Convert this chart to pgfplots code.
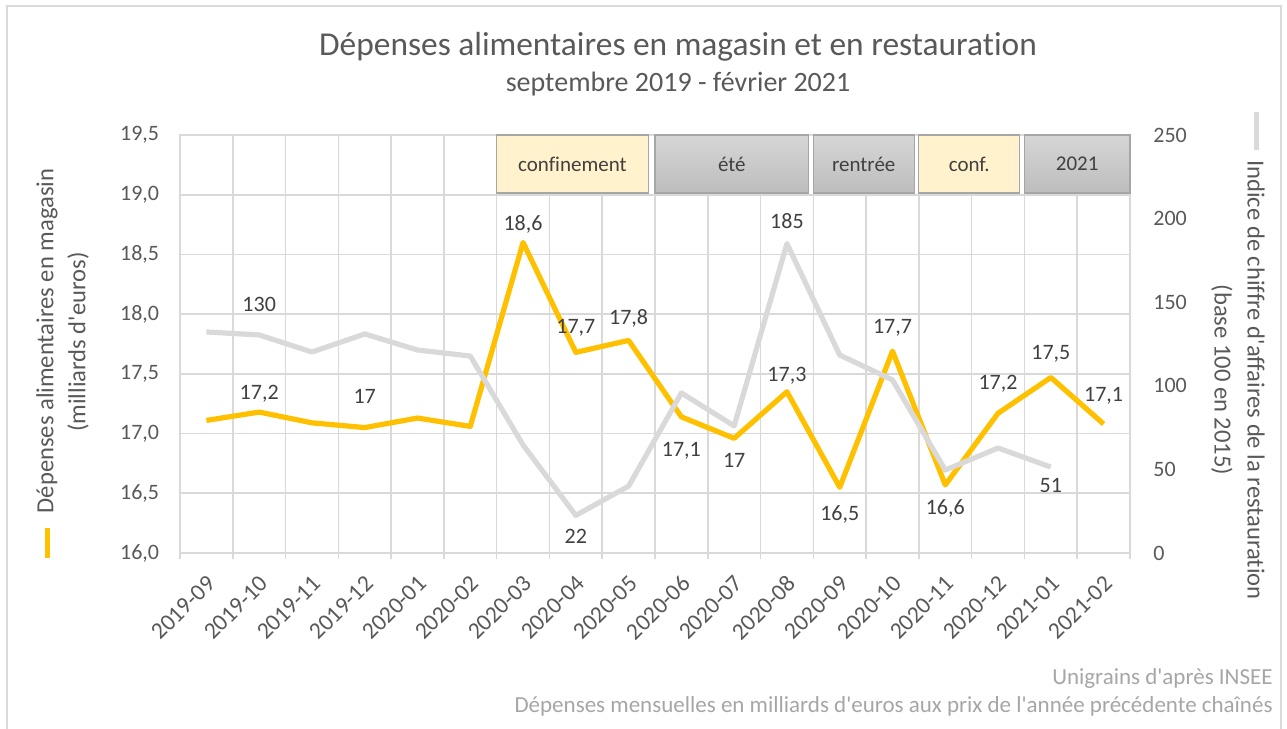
\documentclass[border=0pt]{standalone}
\usepackage{fontspec}
\setmainfont{Carlito}[Ligatures={NoCommon}]
\usepackage{pgfplots}
\usepackage{pgfplotstable}
\pgfplotsset{compat=1.18}
\definecolor{yel}{HTML}{FFC000}
\definecolor{gry}{HTML}{D9D9D9}
\definecolor{grid}{HTML}{D9D9D9}
\definecolor{txt}{HTML}{595959}
\definecolor{dlab}{HTML}{404040}
\definecolor{foot}{HTML}{A6A6A6}
\definecolor{boxy}{HTML}{FFF2CC}
\definecolor{boxb}{HTML}{A6A6A6}
\definecolor{boxt}{HTML}{D6D6D6}
\definecolor{boxbt}{HTML}{BDBDBD}

\pgfplotstableread{
x y
0 17.11
1 17.18
2 17.09
3 17.05
4 17.13
5 17.06
6 18.60
7 17.68
8 17.78
9 17.14
10 16.96
11 17.35
12 16.55
13 17.69
14 16.57
15 17.17
16 17.47
17 17.08
}\magasin

\pgfplotstableread{
x y
0 132.2
1 130.4
2 120.2
3 131.0
4 121.4
5 117.8
6 64.6
7 22.5
8 40.0
9 95.7
10 76.0
11 185.0
12 118.4
13 103.5
14 49.6
15 62.8
16 51.4
}\resto

\pgfplotstableread{
x y lab dy
1 17.18 17,2 10
3 17.05 17 15.5
6 18.60 18,6 9.5
7 17.68 17,7 13
8 17.78 17,8 11.5
9 17.14 17,1 -16.5
10 16.96 17 -11
11 17.35 17,3 8.5
12 16.55 16,5 -13
13 17.69 17,7 12.5
14 16.57 16,6 -11.5
15 17.17 17,2 15.5
16 17.47 17,5 12.5
17 17.08 17,1 15
}\maglab

\pgfplotstableread{
x y lab dy
1 130.4 130 15
7 22.5 22 -10.5
11 185.0 185 11
16 51.4 51 -9
}\reslab

\newcommand{\fs}[1]{\fontsize{#1}{1.2\dimexpr#1\relax}\selectfont}
\newcommand{\q}{\textquotesingle}

\begin{document}
\begin{tikzpicture}
\path[use as bounding box] (0,0) rectangle (643.5bp,364.5bp);
% chart border
\draw[color=grid, line width=0.8bp] (3.5bp,-2bp) -- (3.5bp,361.5bp) -- (640.5bp,361.5bp) -- (640.5bp,-2bp);

% titles
\node[anchor=base, text=txt, inner sep=0pt] at (339bp,336.5bp) {\fs{16.7bp}Dépenses alimentaires en magasin et en restauration};
\node[anchor=base, text=txt, inner sep=0pt] at (339bp,318.5bp) {\fs{14bp}septembre 2019 - février 2021};

% left axis title with legend key
\draw[yel, line width=2.5bp] (23.5bp,85.5bp) -- (23.5bp,100.5bp);
\node[rotate=90, text=txt, inner sep=0pt] at (23.5bp,194bp) {\fs{12.3bp}Dépenses alimentaires en magasin};
\node[rotate=90, text=txt, inner sep=0pt] at (39bp,193.5bp) {\fs{12.3bp}(milliards d\q euros)};

% right axis title with legend key
\draw[gry, line width=2.5bp] (628bp,289.5bp) -- (628bp,308.5bp);
\node[rotate=-90, text=txt, inner sep=0pt] at (628bp,174.5bp) {\fs{12.3bp}Indice de chiffre d\q affaires de la restauration};
\node[rotate=-90, text=txt, inner sep=0pt] at (611bp,174.5bp) {\fs{12.3bp}(base 100 en 2015)};

% footer
\node[anchor=base east, text=foot, inner sep=0pt] at (636.5bp,22.5bp) {\fs{11.5bp}Unigrains d\q après INSEE};
\node[anchor=base east, text=foot, inner sep=0pt] at (636.5bp,8.5bp) {\fs{11.5bp}Dépenses mensuelles en milliards d\q euros aux prix de l\q année précédente chaînés};

\begin{axis}[
  at={(90bp,88bp)}, anchor=south west,
  scale only axis, width=475bp, height=209bp,
  xmin=-0.5, xmax=17.5, ymin=16, ymax=19.5,
  clip=false,
  axis line style={grid, line width=0.8bp},
  xtick={0,...,17},
  xticklabels={2019-09,2019-10,2019-11,2019-12,2020-01,2020-02,2020-03,2020-04,2020-05,2020-06,2020-07,2020-08,2020-09,2020-10,2020-11,2020-12,2021-01,2021-02},
  major x tick style={draw=none},
  minor xtick={-0.5,0.5,...,17.5},
  xminorgrids,
  minor x grid style={grid, line width=0.8bp},
  minor x tick style={grid, line width=0.8bp},
  minor tick length=3bp,
  tick align=outside,
  xtick pos=bottom,
  ytick={16,16.5,...,19.5},
  ymajorgrids,
  major y grid style={grid, line width=0.8bp},
  y tick style={draw=none},
  ytick pos=left,
  tick label style={font=\fs{11bp}, text=txt},
  /pgf/number format/assume math mode=true,
  yticklabel style={/pgf/number format/.cd, fixed, fixed zerofill, precision=1, use comma, /tikz/.cd, anchor=east, inner sep=0pt, xshift=-6bp},
  xticklabel style={xshift=2.5bp, rotate=45, anchor=east, inner sep=0pt, font=\fs{11.8bp}},
  xticklabel shift=9bp,
]
% period boxes
\draw[boxb, fill=boxy, line width=0.6bp] (axis cs:5.5,19.014) rectangle (axis cs:8.37,19.5);
\draw[boxb, top color=boxt, bottom color=boxbt, line width=0.6bp] (axis cs:8.5,19.014) rectangle (axis cs:11.41,19.5);
\draw[boxb, top color=boxt, bottom color=boxbt, line width=0.6bp] (axis cs:11.5,19.014) rectangle (axis cs:13.41,19.5);
\draw[boxb, fill=boxy, line width=0.6bp] (axis cs:13.5,19.014) rectangle (axis cs:15.41,19.5);
\draw[boxb, top color=boxt, bottom color=boxbt, line width=0.6bp] (axis cs:15.5,19.014) rectangle (axis cs:17.5,19.5);
\node[text=dlab, inner sep=0pt] at (axis cs:6.935,19.257) {\fs{10.5bp}confinement};
\node[text=dlab, inner sep=0pt] at (axis cs:9.955,19.257) {\fs{10.5bp}été};
\node[text=dlab, inner sep=0pt] at (axis cs:12.455,19.257) {\fs{10.5bp}rentrée};
\node[text=dlab, inner sep=0pt] at (axis cs:14.455,19.257) {\fs{10.5bp}conf.};
\node[text=dlab, inner sep=0pt] at (axis cs:16.5,19.257) {\fs{10.5bp}2021};

\addplot[yel, line width=2.6bp, line join=round, mark=none] table[x=x,y=y] {\magasin};
\addplot[draw=none, mark=none,
  nodes near coords, point meta=explicit symbolic,
  visualization depends on={\thisrow{dy} \as \dy},
  every node near coord/.append style={anchor=center, inner sep=0pt, text=dlab, font=\fs{11bp}, text height=7bp, text depth=0pt, yshift=\dy bp},
] table[x=x,y=y,meta=lab] {\maglab};
\end{axis}

\begin{axis}[
  at={(90bp,88bp)}, anchor=south west,
  scale only axis, width=475bp, height=209bp,
  xmin=-0.5, xmax=17.5, ymin=0, ymax=250,
  clip=false,
  axis x line=none,
  axis y line*=right,
  axis line style={draw=none},
  ytick={0,50,...,250},
  y tick style={draw=none},
  tick label style={font=\fs{11bp}, text=txt},
  /pgf/number format/assume math mode=true,
  yticklabel style={anchor=west, inner sep=0pt, xshift=11.5bp},
]
\addplot[gry, line width=2.6bp, line join=round, mark=none] table[x=x,y=y] {\resto};
\addplot[draw=none, mark=none,
  nodes near coords, point meta=explicit symbolic,
  visualization depends on={\thisrow{dy} \as \dy},
  every node near coord/.append style={anchor=center, inner sep=0pt, text=dlab, font=\fs{11bp}, text height=7bp, text depth=0pt, yshift=\dy bp},
] table[x=x,y=y,meta=lab] {\reslab};
\end{axis}
\end{tikzpicture}
\end{document}
